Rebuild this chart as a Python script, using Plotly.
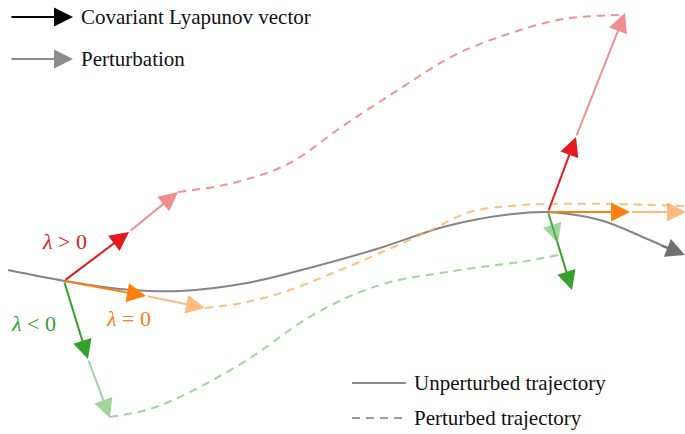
import plotly.graph_objects as go

# ---------------- data (diagram coordinates, pixel-like units, y downward) -------------
traj_x = [8, 65, 120, 180, 247, 313, 380, 447, 513, 547, 600, 645, 670]
traj_y = [270, 281, 289, 291, 283, 267, 248, 226, 214, 212, 220, 238, 249]
traj_arrow = [(660, 245), (685, 255)]

red_dash_x = [178, 233, 288, 343, 398, 453, 508, 563, 624]
red_dash_y = [192, 183, 164, 126, 90, 56, 34, 19, 15]
orange_dash_x = [205, 247, 290, 333, 380, 427, 470, 510, 547, 610, 685]
orange_dash_y = [308, 302, 290, 273, 253, 232, 212, 206, 204, 204, 206]
green_dash_x = [110, 150, 190, 247, 313, 380, 460, 527, 558]
green_dash_y = [417, 409, 392, 360, 315, 285, 270, 261, 255]

# base points
base_left = (64, 281)
base_right = (548, 212)

# (covariant vector tip, perturbation tip) for each exponent at each base point
clv_left = {"red": (129, 232), "orange": (146, 296), "green": (88, 359)}
pert_left = {"red": (178, 192), "orange": (205, 308), "green": (110, 418)}
clv_right = {"red": (576, 137), "orange": (630, 212), "green": (572, 290)}
pert_right = {"red": (625, 13), "orange": (686, 212), "green": (558, 243)}

labels = ["<i>λ</i> > 0", "<i>λ</i> < 0", "<i>λ</i> = 0"]
label_pos = [(64, 241), (33, 323), (128, 318)]
label_col = ["red", "green", "orange"]

legend_texts = ["Covariant Lyapunov vector", "Perturbation",
                "Unperturbed trajectory", "Perturbed trajectory"]

# ---------------- styles ----------------
dark = {"red": "#e3191c", "orange": "#ff7f0e", "green": "#34a02c"}
light = {"red": "rgba(232,100,100,0.72)", "orange": "rgba(255,160,80,0.72)",
         "green": "rgba(100,185,95,0.6)"}
FONT = "Liberation Serif, Times New Roman, serif"

fig = go.Figure()

def spline(x, y, color, dash=None, width=2):
    fig.add_trace(go.Scatter(x=x, y=y, mode="lines",
                             line=dict(color=color, width=width, shape="spline",
                                       smoothing=1.0, dash=dash),
                             hoverinfo="skip", showlegend=False))

spline(traj_x, traj_y, "#858585")
spline(red_dash_x, red_dash_y, "rgba(235,120,120,0.8)", dash="8px,6px")
spline(orange_dash_x, orange_dash_y, "rgba(255,175,100,0.8)", dash="8px,6px")
spline(green_dash_x, green_dash_y, "rgba(120,195,115,0.7)", dash="8px,6px")

annotations = []

def arrow(tail, tip, color, size=1.9, width=2):
    annotations.append(dict(x=tip[0], y=tip[1], ax=tail[0], ay=tail[1],
                            xref="x", yref="y", axref="x", ayref="y",
                            text="", showarrow=True, arrowhead=2,
                            arrowsize=size, arrowwidth=width, arrowcolor=color))

# left base point: perturbation (light) then CLV (dark)
for c in ["red", "orange", "green"]:
    arrow(clv_left[c], pert_left[c], light[c])
    arrow(base_left, clv_left[c], dark[c])
# right base point
for c in ["red", "orange", "green"]:
    arrow(base_right, clv_right[c], dark[c])
for c in ["red", "orange", "green"]:
    if c == "green":
        arrow(base_right, pert_right[c], light[c])
    else:
        arrow(clv_right[c], pert_right[c], light[c])

arrow(traj_arrow[0], traj_arrow[1], "#707070")

# legend arrows
arrow((10, 17), (73, 17), "#000000")
arrow((10, 59), (73, 59), "#8c8c8c")

for txt, (lx, ly), c in zip(labels, label_pos, label_col):
    annotations.append(dict(x=lx, y=ly, xref="x", yref="y", text=txt, showarrow=False,
                            font=dict(family=FONT, size=22, color=dark[c])))

leg_pos = [(79, 17), (79, 59), (412, 383), (412, 418)]
for txt, (lx, ly) in zip(legend_texts, leg_pos):
    annotations.append(dict(x=lx, y=ly, xref="x", yref="y", text=txt, showarrow=False,
                            xanchor="left", yanchor="middle",
                            font=dict(family=FONT, size=21, color="#111111")))

# bottom legend line samples
fig.add_trace(go.Scatter(x=[352, 406], y=[383, 383], mode="lines",
                         line=dict(color="#8a8a8a", width=2), hoverinfo="skip", showlegend=False))
fig.add_trace(go.Scatter(x=[352, 406], y=[418, 418], mode="lines",
                         line=dict(color="#9a9a9a", width=2, dash="8px,6px"),
                         hoverinfo="skip", showlegend=False))

fig.update_layout(
    width=685, height=434,
    margin=dict(l=0, r=0, t=0, b=0),
    paper_bgcolor="white", plot_bgcolor="white",
    xaxis=dict(range=[0, 685], visible=False, fixedrange=True),
    yaxis=dict(range=[434, 0], visible=False, fixedrange=True),
    annotations=annotations,
    showlegend=False,
)

fig.write_html("out.html", config={"displayModeBar": False},
               post_script="document.body.style.margin='0';document.body.style.overflow='hidden';")
